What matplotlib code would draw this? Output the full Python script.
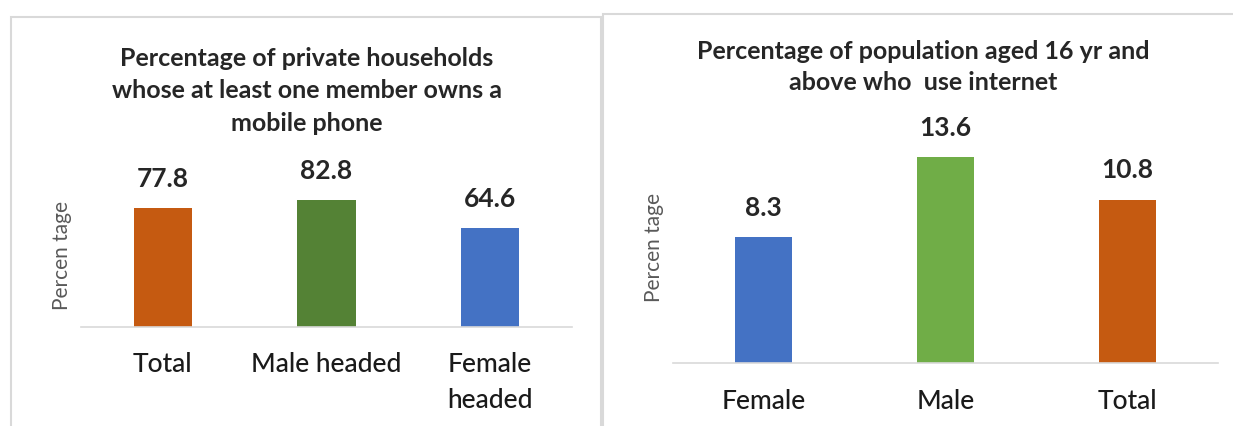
import matplotlib.pyplot as plt
from matplotlib.patches import Rectangle

plt.rcParams['font.family'] = ['Lato', 'DejaVu Sans']

# left chart: households with a mobile phone
hh_cats = ['Total', 'Male headed', 'Female\nheaded']
hh_vals = [77.8, 82.8, 64.6]
hh_colors = ['#C55A11', '#548235', '#4472C4']
hh_title = 'Percentage of private households\nwhose at least one member owns a\nmobile phone'

# right chart: internet use
net_cats = ['Female', 'Male', 'Total']
net_vals = [8.3, 13.6, 10.8]
net_colors = ['#4472C4', '#70AD47', '#C55A11']
net_title = 'Percentage of population aged 16 yr and\nabove who  use internet'

W, H = 1233, 426
fig = plt.figure(figsize=(W / 100, H / 100), dpi=100)


def fx(px):
    return px / W


def fy(py):
    return 1 - py / H


# panel borders
fig.patches.append(Rectangle((fx(11), fy(440)), fx(590), fy(17) - fy(440),
                             transform=fig.transFigure, fill=False,
                             edgecolor='#D9D9D9', lw=1.5))
fig.patches.append(Rectangle((fx(603), fy(440)), fx(640), fy(14) - fy(440),
                             transform=fig.transFigure, fill=False,
                             edgecolor='#D9D9D9', lw=1.5))


def panel(rect, cats, vals, colors, width, ymax, pad):
    ax = fig.add_axes(rect)
    x = range(len(cats))
    ax.bar(x, vals, width=width, color=colors)
    for i, v in zip(x, vals):
        ax.annotate(f'{v}', (i, v), xytext=(0, 21), textcoords='offset points',
                    ha='center', va='center', fontsize=19, fontweight='bold',
                    color='#262626')
    ax.set_xlim(-0.5, len(cats) - 0.5)
    ax.set_ylim(0, ymax)
    ax.set_xticks(list(x))
    ax.set_xticklabels(cats, fontsize=19, fontweight='medium', color='#1a1a1a',
                       linespacing=1.55)
    ax.tick_params(axis='x', length=0, pad=pad)
    ax.set_yticks([])
    for s in ['top', 'right', 'left']:
        ax.spines[s].set_visible(False)
    ax.spines['bottom'].set_color('#D9D9D9')
    ax.spines['bottom'].set_linewidth(1.2)
    return ax


axl = panel([fx(81), fy(327), fx(491), fy(174) - fy(327)],
            hh_cats, hh_vals, hh_colors, 0.355, 100, 18)
axr = panel([fx(673), fy(363), fx(545), fy(121) - fy(363)],
            net_cats, net_vals, net_colors, 0.315, 16, 19)

fig.text(fx(62), fy(255), 'Percen tage', rotation=90, ha='center', va='center',
         fontsize=15, color='#595959')
fig.text(fx(654), fy(248), 'Percen tage', rotation=90, ha='center', va='center',
         fontsize=15, color='#595959')

fig.text(fx(307), fy(91), hh_title, ha='center', va='center', fontsize=18,
         fontweight='bold', color='#262626', linespacing=1.5)
fig.text(fx(923), fy(67), net_title, ha='center', va='center', fontsize=18,
         fontweight='bold', color='#262626', linespacing=1.45)

fig.savefig('out.png', dpi=100)
